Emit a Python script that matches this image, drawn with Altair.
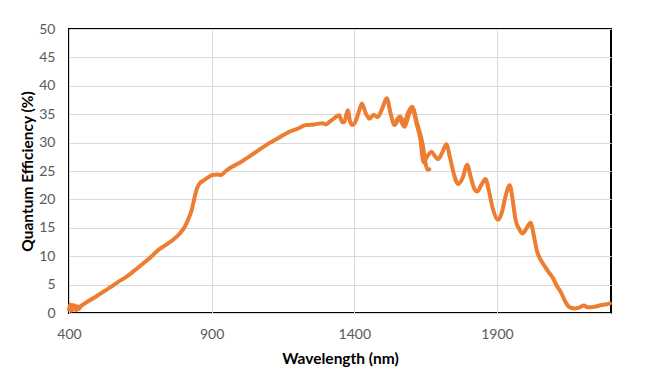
import altair as alt
import pandas as pd

# Segment A (short-wave detector range)
wl_a = [400, 404, 408, 412, 416, 420, 425, 430, 435, 440, 450, 465, 485, 510, 544, 570,
        602, 630, 660, 690, 713, 740, 765, 790, 806, 818, 830, 840, 847, 858, 871, 885,
        903, 920, 933, 950, 970, 997, 1030, 1060, 1102, 1140, 1172, 1200, 1231, 1260,
        1289, 1300, 1312, 1330, 1347, 1358, 1365, 1377, 1386, 1394, 1406, 1417, 1427,
        1440, 1453, 1468, 1482, 1498, 1514, 1528, 1541, 1558, 1576, 1593, 1605, 1619,
        1640, 1650, 1657, 1663]
qe_a = [0.6, 1.5, 0.4, 1.4, 0.6, 1.3, 0.5, 1.2, 0.7, 1.1, 1.5, 2.0, 2.6, 3.4, 4.5, 5.4,
        6.4, 7.5, 8.7, 10.0, 11.1, 12.0, 12.9, 14.1, 15.2, 16.5, 18.1, 20.3, 21.7, 22.8,
        23.3, 23.8, 24.3, 24.4, 24.3, 25.0, 25.7, 26.4, 27.5, 28.5, 29.9, 31.0, 31.9,
        32.4, 33.1, 33.2, 33.4, 33.2, 33.6, 34.3, 34.8, 33.6, 33.6, 35.7, 33.6, 33.1,
        33.9, 35.6, 36.9, 35.2, 34.2, 34.9, 34.5, 36.0, 37.8, 35.0, 33.1, 34.2, 32.8,
        35.1, 36.0, 33.6, 29.6, 26.3, 25.2, 25.3]

# Segment B (long-wave detector range)
wl_b = [1545, 1560, 1575, 1590, 1603, 1618, 1632, 1643, 1655, 1671, 1683, 1694, 1708,
        1723, 1735, 1750, 1764, 1780, 1796, 1808, 1820, 1831, 1845, 1860, 1872, 1885,
        1904, 1918, 1930, 1945, 1955, 1965, 1978, 1990, 2005, 2018, 2030, 2040, 2048,
        2068, 2080, 2097, 2110, 2126, 2140, 2150, 2160, 2173, 2190, 2205, 2218, 2231,
        2250, 2266, 2280, 2296]
qe_b = [33.6, 34.6, 33.6, 35.4, 36.3, 33.4, 30.5, 26.5, 27.5, 28.4, 27.6, 27.1, 28.2,
        29.7, 27.5, 24.3, 22.7, 23.8, 26.1, 24.0, 22.0, 21.4, 22.5, 23.6, 21.5, 18.5,
        16.4, 17.8, 20.5, 22.5, 20.0, 16.5, 14.8, 14.0, 15.0, 15.9, 13.5, 11.0, 9.9,
        8.2, 7.3, 6.1, 4.8, 3.5, 2.0, 1.2, 0.9, 0.8, 1.0, 1.3, 1.0, 1.0, 1.2, 1.4, 1.5,
        1.7]

x_ticks = [400, 900, 1400, 1900]
y_ticks = [0, 5, 10, 15, 20, 25, 30, 35, 40, 45, 50]

df = pd.concat([
    pd.DataFrame({"wl": wl_a, "qe": qe_a, "seg": "A"}),
    pd.DataFrame({"wl": wl_b, "qe": qe_b, "seg": "B"}),
], ignore_index=True)

FONT = "Lato"

chart = alt.Chart(df).mark_line(
    color="#ED7D31", strokeWidth=4, interpolate="monotone",
    strokeJoin="round", strokeCap="round"
).encode(
    x=alt.X("wl:Q", scale=alt.Scale(domain=[400, 2300], nice=False, zero=False),
            axis=alt.Axis(values=x_ticks, format="d", title="Wavelength (nm)", grid=True,
                          gridColor="#D9D9D9", gridWidth=1, tickSize=0, labelFlush=False,
                          domain=False, labelFontSize=14, labelColor="#595959",
                          labelFont=FONT, labelPadding=14, titleFont=FONT,
                          titleFontSize=15.5, titleFontWeight="bold",
                          titleColor="#000000", titlePadding=10)),
    y=alt.Y("qe:Q", scale=alt.Scale(domain=[0, 50], nice=False),
            axis=alt.Axis(values=y_ticks, title="Quantum Efficiency (%)", grid=True,
                          gridColor="#D9D9D9", gridWidth=1, tickSize=0, labelFlush=False,
                          domain=False, labelFontSize=14, labelColor="#595959",
                          labelFont=FONT, labelPadding=14, titleFont=FONT,
                          titleFontSize=15.5, titleFontWeight="bold",
                          titleColor="#000000", titlePadding=3)),
    detail="seg:N",
).properties(
    width=542, height=284,
    background="white",
    autosize=alt.AutoSizeParams(type="none"),
    padding={"left": 61, "top": 21, "right": 44, "bottom": 58},
).configure_view(
    stroke="#000000", strokeWidth=2
)

chart.save("out.html", embed_options={"renderer": "svg", "actions": False})
